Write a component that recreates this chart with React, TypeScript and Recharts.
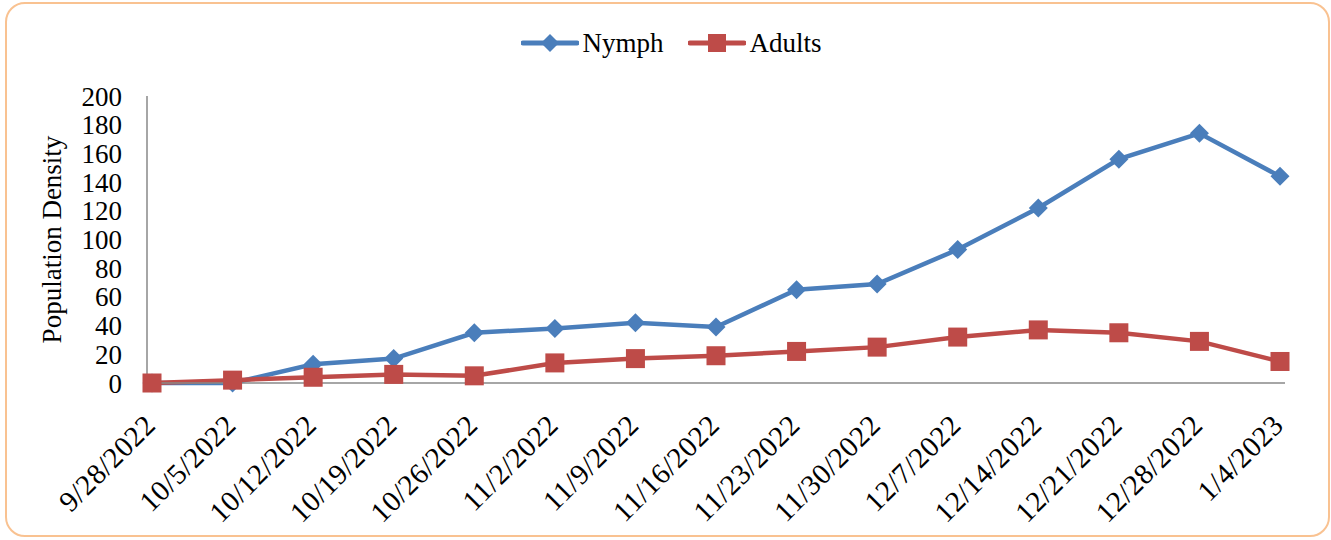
import { CartesianGrid, Legend, Line, LineChart, XAxis, YAxis } from "recharts";

const dates: string[] = [
  "9/28/2022", "10/5/2022", "10/12/2022", "10/19/2022", "10/26/2022",
  "11/2/2022", "11/9/2022", "11/16/2022", "11/23/2022", "11/30/2022",
  "12/7/2022", "12/14/2022", "12/21/2022", "12/28/2022", "1/4/2023",
];
const nymph: number[] = [0, 0, 13, 17, 35, 38, 42, 39, 65, 69, 93, 122, 156, 174, 144];
const adults: number[] = [0, 2, 4, 6, 5, 14, 17, 19, 22, 25, 32, 37, 35, 29, 15];
const yTicks: number[] = [0, 20, 40, 60, 80, 100, 120, 140, 160, 180, 200];
const seriesOrder: string[] = ["nymph", "adults"];

const data = dates.map((date, i) => ({ date, nymph: nymph[i], adults: adults[i] }));

const FONT = "'Liberation Serif', 'Times New Roman', serif";
const BLUE = "#4A7EBB";
const RED = "#BE4B48";
const AXIS = "#898989";

const Diamond = ({ cx, cy, r = 9.5, fill }: any) => (
  <polygon points={`${cx},${cy - r} ${cx + r},${cy} ${cx},${cy + r} ${cx - r},${cy}`} fill={fill} />
);

const Square = ({ cx, cy, s = 19, fill }: any) => (
  <rect x={cx - s / 2} y={cy - s / 2} width={s} height={s} fill={fill} />
);

const DateTick = ({ x, y, payload }: any) => (
  <text
    x={x + 5}
    y={y + 36}
    transform={`rotate(-45, ${x + 5}, ${y + 36})`}
    textAnchor="end"
    fontFamily={FONT}
    fontSize={29}
    letterSpacing={0.5}
    fill="#000"
  >
    {payload.value}
  </text>
);

const YLabel = ({ viewBox }: any) => {
  const cy = viewBox ? viewBox.y + viewBox.height / 2 : 240;
  return (
    <text
      x={52}
      y={cy}
      transform={`rotate(-90, 52, ${cy})`}
      textAnchor="middle"
      dominantBaseline="central"
      fontFamily={FONT}
      fontSize={27}
      fill="#000"
    >
      Population Density
    </text>
  );
};

// legend with line + marker icons like the spreadsheet one
const LegendContent = ({ payload }: any) => {
  const items = [...(payload || [])].sort(
    (a: any, b: any) => seriesOrder.indexOf(a.dataKey) - seriesOrder.indexOf(b.dataKey)
  );
  return (
    <div style={{ display: "flex", justifyContent: "center", alignItems: "center", fontFamily: FONT, fontSize: 27, color: "#000", height: 30, paddingLeft: 12 }}>
      {items.map((entry: any, i: number) => (
        <div key={entry.value} style={{ display: "flex", alignItems: "center", marginLeft: i === 0 ? 0 : 25 }}>
          <svg width={58} height={22} style={{ marginRight: 3 }}>
            <line x1={2} y1={11} x2={56} y2={11} stroke={entry.color} strokeWidth={5} strokeLinecap="round" />
            {entry.dataKey === "nymph" ? (
              <Diamond cx={29} cy={11} r={9} fill={entry.color} />
            ) : (
              <Square cx={29} cy={11} s={18} fill={entry.color} />
            )}
          </svg>
          <span style={{ lineHeight: "30px" }}>{entry.value}</span>
        </div>
      ))}
    </div>
  );
};

const App = () => {
  return (
    <div style={{ position: "absolute", left: 0, top: 0, width: 1331, height: 540, background: "#fff" }}>
      <div
        style={{
          position: "absolute",
          left: 5,
          top: 2,
          width: 1325,
          height: 535,
          border: "2px solid #F9C291",
          borderRadius: 20,
          boxSizing: "border-box",
        }}
      />
      <LineChart
        width={1331}
        height={540}
        data={data}
        margin={{ top: 96, right: 46, left: 0, bottom: 0 }}
        style={{ position: "absolute", left: 0, top: 0 }}
      >
        <CartesianGrid vertical={false} horizontal={false} />
        <XAxis
          dataKey="date"
          height={157}
          interval={0}
          tickLine={false}
          axisLine={{ stroke: AXIS, strokeWidth: 1.5 }}
          padding={{ left: 5, right: 5 }}
          tick={<DateTick />}
        />
        <YAxis
          width={147}
          domain={[0, 200]}
          ticks={yTicks}
          interval={0}
          tickLine={false}
          tickSize={0}
          tickMargin={25}
          axisLine={{ stroke: AXIS, strokeWidth: 1.5 }}
          tick={{ fontFamily: FONT, fontSize: 27, fill: "#000" }}
          label={<YLabel />}
        />
        <Legend
          verticalAlign="middle"
          layout="horizontal"
          content={<LegendContent />}
          wrapperStyle={{ top: 28, left: 0, width: 1331, height: 30 }}
        />
        <Line
          dataKey="nymph"
          name="Nymph"
          stroke={BLUE}
          strokeWidth={4.5}
          isAnimationActive={false}
          dot={(p: any) => <Diamond key={`n-${p.index}`} cx={p.cx} cy={p.cy} fill={BLUE} />}
          activeDot={false}
        />
        <Line
          dataKey="adults"
          name="Adults"
          stroke={RED}
          strokeWidth={4.5}
          isAnimationActive={false}
          dot={(p: any) => <Square key={`a-${p.index}`} cx={p.cx} cy={p.cy} fill={RED} />}
          activeDot={false}
        />
      </LineChart>
    </div>
  );
};

export default App;
